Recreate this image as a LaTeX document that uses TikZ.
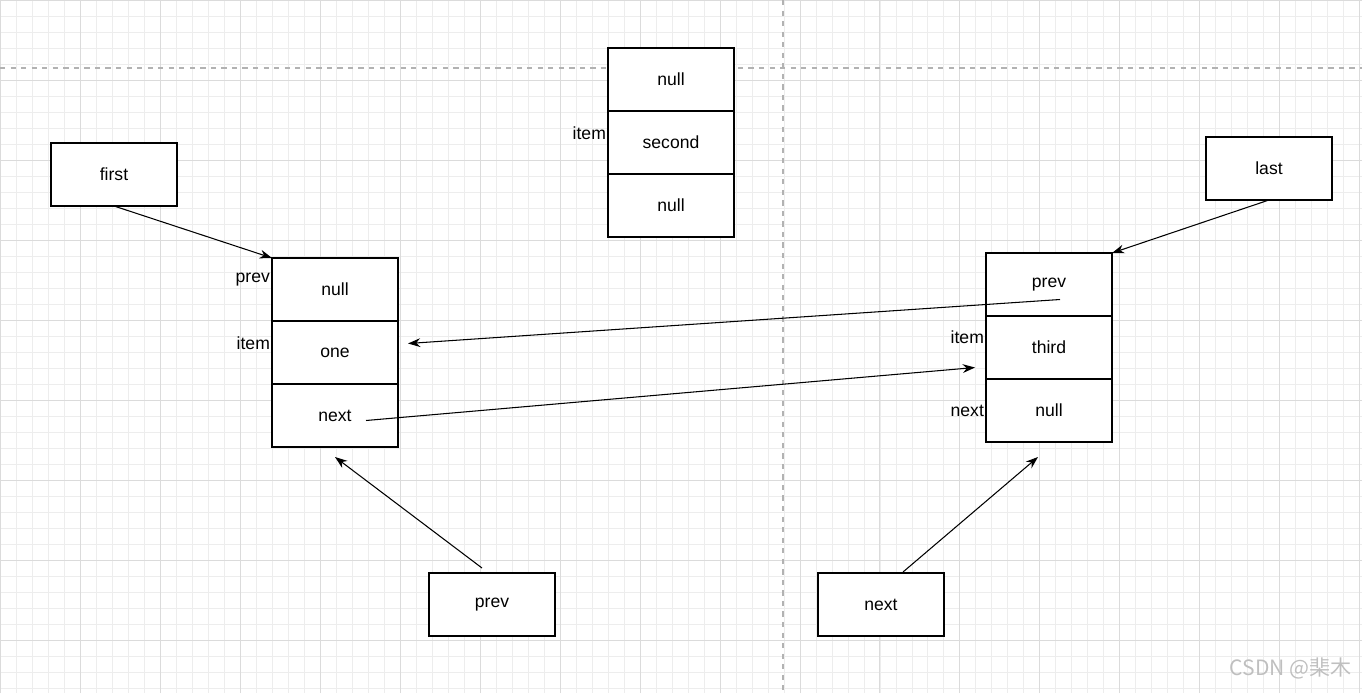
\documentclass[tikz,border=0pt]{standalone}
\usepackage{fontspec}
\setmainfont{Liberation Sans}
\newfontfamily\cjk{Noto Sans CJK SC}
\usetikzlibrary{positioning,calc,arrows.meta}

\tikzset{
  cell/.style={draw, semithick, fill=white, minimum width=126*0.02cm,
    minimum height=63*0.02cm, inner sep=0pt, outer sep=0pt,
    font=\fontsize{10}{12}\selectfont},
  tag/.style={anchor=east, inner sep=1pt, font=\fontsize{10}{12}\selectfont},
  link/.style={-{Stealth[length=7pt,width=5pt]}, semithick},
}

\begin{document}
\begin{tikzpicture}[x=0.02cm, y=-0.02cm]

  \useasboundingbox (0,0) rectangle (1362,693);
  %% background grid
  \draw[black!7, step=0.32cm] (0,0) grid (1362,693);
  \draw[black!14, step=1.6cm] (0,0) grid (1362,693);
  \draw[black!30, dashed, thick] (0,68) -- (1362,68);
  \draw[black!30, dashed, thick] (783,0) -- (783,693);

  %% single boxes
  \node[cell] (first) at (114,174.5) {first};
  \node[cell] (last)  at (1269,168.5) {last};
  \node[cell] (prev)  at (492,604.5) {prev};
  \node[cell] (next)  at (881,604.5) {next};

  %% node one
  \node[cell] (oneprev) at (335,289.5) {null};
  \node[cell, below=0pt of oneprev] (oneitem) {one};
  \node[cell, below=0pt of oneitem] (onenext) {next};
  \node[tag] at (oneprev.west |- 0,280) {prev};
  \node[tag] at (oneitem.west |- 0,343) {item};

  %% node second
  \node[cell] (secprev) at (671,79.5) {null};
  \node[cell, below=0pt of secprev] (secitem) {second};
  \node[cell, below=0pt of secitem] (secnext) {null};
  \node[tag] at (secitem.west |- 0,133) {item};

  %% node third
  \node[cell] (thdprev) at (1049,284.5) {prev};
  \node[cell, below=0pt of thdprev] (thditem) {third};
  \node[cell, below=0pt of thditem] (thdnext) {null};
  \node[tag] at (thditem.west |- 0,337) {item};
  \node[tag] at (thdnext.west |- 0,411) {next};

  %% links
  \draw[link] (first.south) -- (oneprev.north west);
  \draw[link] (last.south) -- (thdprev.north east);
  \draw[link] ($(prev.north)+(-10,-5)$) -- ($(onenext.south)+(0,10)$);
  \draw[link] ($(next.north)+(22,-1)$) -- ($(thdnext.south)+(-11,15)$);
  \draw[link] ($(thdprev.center)+(11,15)$) -- ($(oneitem.east)+(10,-9)$);
  \draw[link] ($(onenext.center)+(31,5)$) -- ($(thditem.west)+(-11,20)$);

  \node[black!25, font=\cjk\fontsize{12}{14}\selectfont, anchor=east] (mark) at (1358,668) {CSDN @棐木};

\end{tikzpicture}
\end{document}
